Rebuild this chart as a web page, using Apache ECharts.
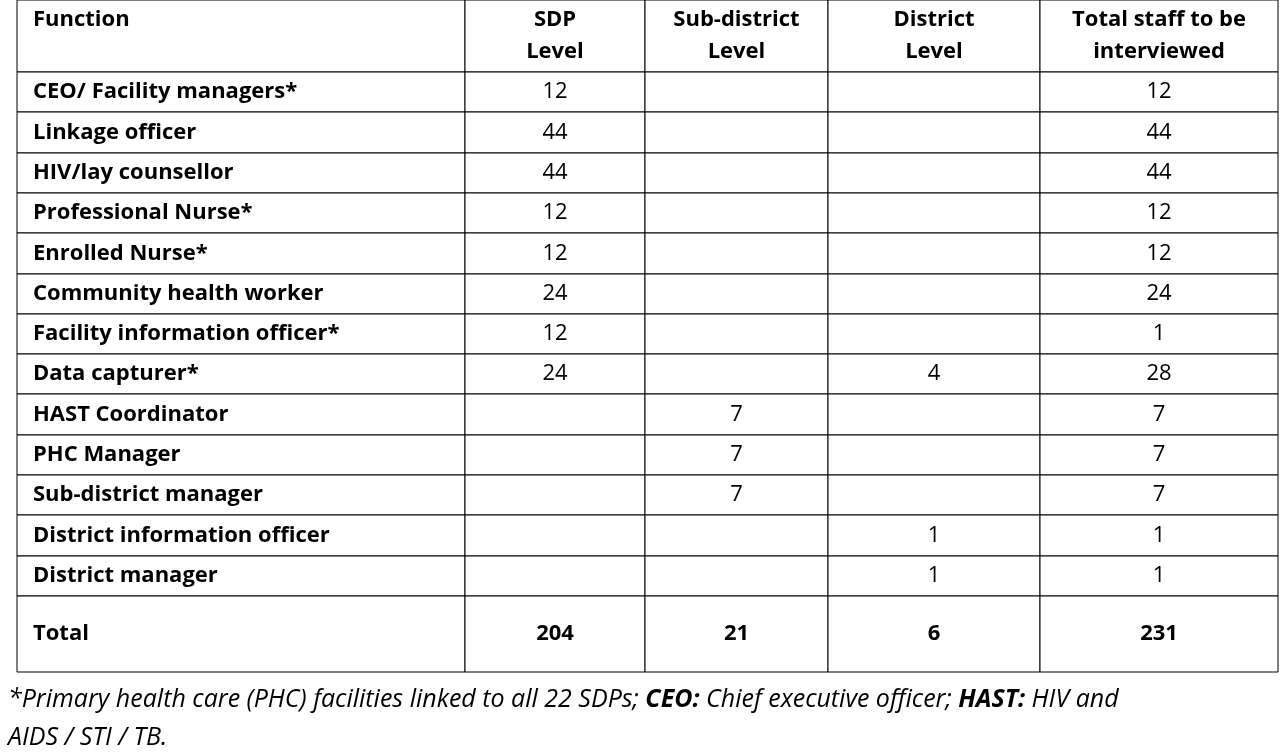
<!DOCTYPE html>
<html>
<head>
<meta charset="utf-8">
<script src="https://cdn.jsdelivr.net/npm/echarts@6/dist/echarts.min.js"></script>
<style>html,body{margin:0;background:#fff}#c{width:1280px;height:752px}</style>
</head>
<body>
<div id="c"></div>
<script>
var headers = ['Function', 'SDP\nLevel', 'Sub-district\nLevel', 'District\nLevel', 'Total staff to be\ninterviewed'];
var functions = ['CEO/ Facility managers*', 'Linkage officer', 'HIV/lay counsellor', 'Professional Nurse*',
    'Enrolled Nurse*', 'Community health worker', 'Facility information officer*', 'Data capturer*',
    'HAST Coordinator', 'PHC Manager', 'Sub-district manager', 'District information officer', 'District manager'];
var sdpLevel = [12, 44, 44, 12, 12, 24, 12, 24, null, null, null, null, null];
var subDistrictLevel = [null, null, null, null, null, null, null, null, 7, 7, 7, null, null];
var districtLevel = [null, null, null, null, null, null, null, 4, null, null, null, 1, 1];
var totalStaff = [12, 44, 44, 12, 12, 24, 1, 28, 7, 7, 7, 1, 1];
var totals = ['Total', 204, 21, 6, 231];

// layout (pixel units on hidden value axes)
var colEdges = [17, 465, 645, 828, 1040, 1278];
var rowEdges = [0, 72];
for (var i = 0; i < functions.length; i++) rowEdges.push(72 + Math.round((i + 1) * 40.3));
rowEdges.push(672);

var cells = [];
headers.forEach(function (h, c) { cells.push([c, 0, h, 'head']); });
functions.forEach(function (f, r) {
    var vals = [f, sdpLevel[r], subDistrictLevel[r], districtLevel[r], totalStaff[r]];
    vals.forEach(function (v, c) { cells.push([c, r + 1, v == null ? '' : String(v), 'body']); });
});
totals.forEach(function (v, c) { cells.push([c, functions.length + 1, String(v), 'total']); });

var chart = echarts.init(document.getElementById('c'));
var font = '"Open Sans", "Liberation Sans", sans-serif';
chart.setOption({
    animation: false,
    grid: { left: 0, right: 0, top: 0, bottom: 0 },
    xAxis: { type: 'value', min: 0, max: 1280, show: false },
    yAxis: { type: 'value', min: 0, max: 752, inverse: true, show: false },
    title: {
        left: 3, top: 676,
        text: '{i|*Primary health care (PHC) facilities linked to all 22 SDPs; }{b|CEO:}{i| Chief executive officer; }{b|HAST:}{i| HIV and}\n{i|AIDS / STI / TB.}',
        textStyle: {
            fontWeight: 'normal', fontSize: 25, fontFamily: font,
            rich: {
                i: { fontFamily: font, fontStyle: 'italic', fontWeight: 'normal', fontSize: 25, color: '#000', lineHeight: 38 },
                b: { fontFamily: font, fontStyle: 'italic', fontWeight: 'bold', fontSize: 25, color: '#000', lineHeight: 38 }
            }
        }
    },
    series: [{
        type: 'custom',
        coordinateSystem: 'cartesian2d',
        data: cells,
        renderItem: function (params, api) {
            var c = api.value(0), r = api.value(1);
            var cell = cells[params.dataIndex];
            var p0 = api.coord([colEdges[c], rowEdges[r]]);
            var p1 = api.coord([colEdges[c + 1], rowEdges[r + 1]]);
            var kind = cell[3];
            var bold = kind !== 'body' || c === 0;
            var left = c === 0;
            var ty = (kind === 'head' && c === 0) ? p0[1] + 20 : (p0[1] + p1[1]) / 2;
            return {
                type: 'group',
                children: [{
                    type: 'rect',
                    shape: { x: p0[0], y: p0[1], width: p1[0] - p0[0], height: p1[1] - p0[1] },
                    style: { fill: '#fff', stroke: '#000', lineWidth: 1 }
                }, {
                    type: 'text',
                    x: left ? p0[0] + 16 : (p0[0] + p1[0]) / 2,
                    y: ty,
                    style: {
                        text: cell[2],
                        fontFamily: font, fontSize: 22, lineHeight: 32,
                        fontWeight: bold ? 'bold' : 'normal',
                        fill: '#000',
                        align: left ? 'left' : 'center',
                        verticalAlign: 'middle'
                    }
                }]
            };
        }
    }]
});
</script>
</body>
</html>
